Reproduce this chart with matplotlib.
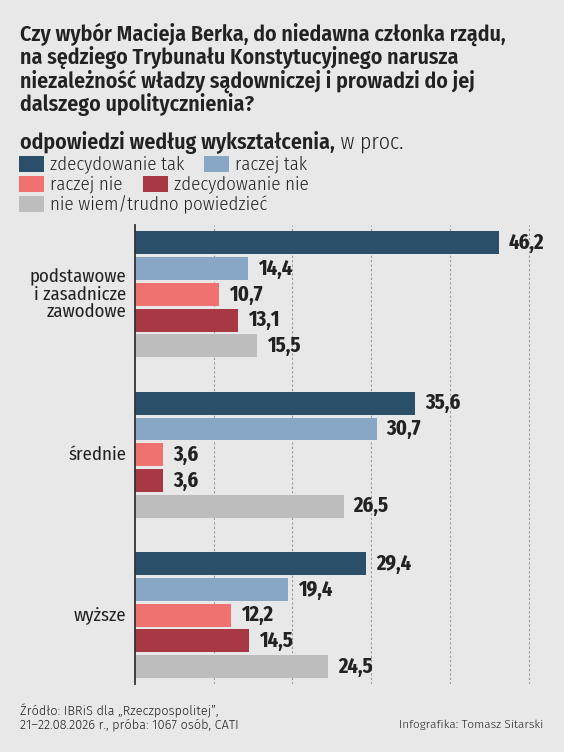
import matplotlib
matplotlib.use("Agg")
import matplotlib.pyplot as plt
from matplotlib.patches import Rectangle

# ---------------- data ----------------
categories = ["podstawowe\ni zasadnicze\nzawodowe", "średnie", "wyższe"]
series_names = ["zdecydowanie tak", "raczej tak", "raczej nie", "zdecydowanie nie",
                "nie wiem/trudno powiedzieć"]
zdecydowanie_tak = [46.2, 35.6, 29.4]
raczej_tak = [14.4, 30.7, 19.4]
raczej_nie = [10.7, 3.6, 12.2]
zdecydowanie_nie = [13.1, 3.6, 14.5]
nie_wiem = [15.5, 26.5, 24.5]
series_values = [zdecydowanie_tak, raczej_tak, raczej_nie, zdecydowanie_nie, nie_wiem]
series_colors = ["#2c4f69", "#88a7c7", "#ef7271", "#a83843", "#bdbdbd"]
grid_ticks = [10, 20, 30, 40, 50]

title_lines = ["Czy wybór Macieja Berka, do niedawna członka rządu,",
               "na sędziego Trybunału Konstytucyjnego narusza",
               "niezależność władzy sądowniczej i prowadzi do jej",
               "dalszego upolitycznienia?"]
subtitle_bold = "odpowiedzi według wykształcenia,"
subtitle_rest = " w proc."
source_lines = ["Źródło: IBRiS dla „Rzeczpospolitej”,",
                "21–22.08.2026 r., próba: 1067 osób, CATI"]
credit = "Infografika: Tomasz Sitarski"

# ---------------- style ----------------
BG = "#e8e8e8"
TXT = "#222222"
COND = ["Fira Sans Condensed", "DejaVu Sans"]
XCOND = ["Fira Sans Extra Condensed", "Fira Sans Condensed", "DejaVu Sans"]
REG = ["Fira Sans", "DejaVu Sans"]
W, H = 564, 752

fig = plt.figure(figsize=(W / 100, H / 100), dpi=100, facecolor=BG)

def fx(px):
    return px / W

def fy(py):
    return 1 - py / H

# ---------------- title ----------------
title_y = [40.5, 64, 87.5, 110.5]
for line, yb in zip(title_lines, title_y):
    fig.text(fx(20), fy(yb), line, family=COND, weight=600, fontsize=15.75,
             color=TXT, va="baseline", ha="left")

renderer = fig.canvas.get_renderer()
t_sub = fig.text(fx(20), fy(149), subtitle_bold, family=COND, weight=600,
                 fontsize=15.75, color=TXT, va="baseline", ha="left")
bb = t_sub.get_window_extent(renderer)
fig.text(bb.x1 / W, fy(149), subtitle_rest, family=COND, weight=300,
         fontsize=15.75, color=TXT, va="baseline", ha="left")

# ---------------- legend ----------------
legend_rows = [[0, 1], [2, 3], [4]]
row_top = [156, 176, 196]
sw_w, sw_h = 25, 15.5
for r, idxs in enumerate(legend_rows):
    x = 19
    for i in idxs:
        fig.patches.append(Rectangle((fx(x), fy(row_top[r] + sw_h)), sw_w / W, sw_h / H,
                                     transform=fig.transFigure, facecolor=series_colors[i],
                                     edgecolor="none"))
        t = fig.text(fx(x + sw_w + 6), fy(row_top[r] + 13.5), series_names[i],
                     family=COND, weight=300, fontsize=13.5, color=TXT,
                     va="baseline", ha="left")
        x = t.get_window_extent(renderer).x1 + 20

# ---------------- bars ----------------
ax_left, ax_top, ax_bottom, ax_right = 135, 225, 684, 544
ax = fig.add_axes([fx(ax_left), fy(ax_bottom), (ax_right - ax_left) / W,
                   (ax_bottom - ax_top) / H])
ax.set_facecolor(BG)

n_series = len(series_values)
group_pitch = 6.23
bar_h = 0.89
for g, cat in enumerate(categories):
    for i in range(n_series):
        yc = g * group_pitch + i
        v = series_values[i][g]
        ax.barh(yc, v, height=bar_h, color=series_colors[i], edgecolor="none", zorder=3)
        ax.annotate(f"{v:.1f}".replace(".", ","), xy=(v, yc), xytext=(7.2, 0),
                    textcoords="offset points", va="center", ha="left",
                    family=XCOND, weight="bold", fontsize=16, color=TXT, zorder=4)
    gc = g * group_pitch + (n_series - 1) / 2
    ax.annotate(cat, xy=(0, gc), xytext=(-6, 0), textcoords="offset points",
                va="center", ha="right", multialignment="right",
                family=COND, weight=400, fontsize=13.5, color=TXT, linespacing=1.0)

last = (len(categories) - 1) * group_pitch + (n_series - 1)
ax.set_ylim(last + bar_h / 2 + 0.23, -bar_h / 2 - 0.25)
ax.set_xlim(0, (ax_right - ax_left) / 7.87)

ax.set_xticks(grid_ticks)
ax.set_yticks([])
ax.tick_params(axis="x", length=0, labelbottom=False)
ax.grid(axis="x", color="#9a9a9a", linestyle=(0, (2, 2)), linewidth=0.8, zorder=1)
for s in ["top", "right", "bottom"]:
    ax.spines[s].set_visible(False)
ax.spines["left"].set_color("#333333")
ax.spines["left"].set_linewidth(1.3)
ax.spines["left"].set_zorder(5)

# ---------------- footer ----------------
fig.text(fx(20), fy(715), source_lines[0], family=REG, weight=300, fontsize=9.2,
         color=TXT, va="baseline", ha="left")
fig.text(fx(20), fy(728.5), source_lines[1], family=REG, weight=300, fontsize=9.2,
         color=TXT, va="baseline", ha="left")
fig.text(fx(543), fy(728.5), credit, family=REG, weight=300, fontsize=8.5,
         color=TXT, va="baseline", ha="right")

fig.savefig("out.png", dpi=100, facecolor=BG)
